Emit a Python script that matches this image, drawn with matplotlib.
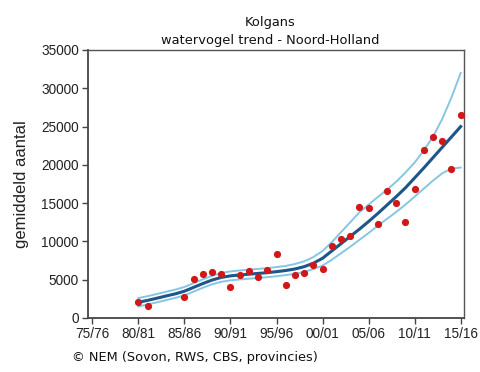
import matplotlib
matplotlib.use("Agg")
import matplotlib.pyplot as plt
import numpy as np

# Winter seasons (first year of season) and observed mean counts
count_years = [1980, 1981, 1985, 1986, 1987, 1988, 1989, 1990, 1991, 1992,
               1993, 1994, 1995, 1996, 1997, 1998, 1999, 2000, 2001, 2002,
               2003, 2004, 2005, 2006, 2007, 2008, 2009, 2010, 2011, 2012,
               2013, 2014, 2015]
counts = [2050, 1530, 2740, 5050, 5750, 6050, 5750, 4000, 5550, 6140,
          5400, 6270, 8400, 4310, 5570, 5920, 6960, 6440, 9400, 10320,
          10700, 14540, 14370, 12280, 16630, 15020, 12580, 16810, 21900, 23640,
          23120, 19460, 26470]

# Fitted trend with lower and upper confidence limits
trend_years = list(range(1980, 2016))
trend = [2050, 2300, 2580, 2870, 3150, 3500, 4000, 4500, 4950, 5300,
         5500, 5620, 5720, 5820, 5920, 6050, 6200, 6400, 6700, 7150,
         7800, 8750, 9700, 10650, 11600, 12600, 13650, 14750, 15850, 17000,
         18300, 19600, 20950, 22300, 23650, 25000]
lower = [1500, 1770, 2040, 2330, 2620, 2950, 3450, 3950, 4400, 4720,
         4920, 5030, 5130, 5230, 5330, 5450, 5600, 5760, 6020, 6380,
         6850, 7600, 8450, 9300, 10200, 11100, 12050, 12950, 13850, 14800,
         15850, 16900, 17950, 18900, 19500, 19650]
upper = [2600, 2850, 3130, 3420, 3700, 4050, 4550, 5050, 5500, 5880,
         6080, 6210, 6310, 6410, 6510, 6650, 6800, 7050, 7400, 7950,
         8750, 9900, 11200, 12500, 13800, 14800, 15800, 16750, 17800, 19000,
         20300, 21900, 23700, 26000, 28800, 32000]

tick_years = [1975, 1980, 1985, 1990, 1995, 2000, 2005, 2010, 2015]
tick_labels = ["75/76", "80/81", "85/86", "90/91", "95/96", "00/01",
               "05/06", "10/11", "15/16"]
y_ticks = [0, 5000, 10000, 15000, 20000, 25000, 30000, 35000]

fig = plt.figure(figsize=(4.8, 3.72), dpi=100)
ax = fig.add_axes([0.1833, 0.1452, 0.9667 - 0.1833, 0.8656 - 0.1452])

band_col = "#86c6e4"
ax.plot(trend_years, upper, color=band_col, lw=1.4, zorder=2)
ax.plot(trend_years, lower, color=band_col, lw=1.4, zorder=2)
ax.plot(trend_years, trend, color="#1d5688", lw=2.2, zorder=3)
ax.plot(count_years, counts, "o", color="#d01818", ms=5.2, mec="none", zorder=4)

ax.set_xlim(1974.53, 2015.36)
ax.set_ylim(0, 35000)
ax.set_xticks(tick_years)
ax.set_xticklabels(tick_labels)
ax.set_yticks(y_ticks)

for lab in ax.get_xticklabels() + ax.get_yticklabels():
    lab.set_fontfamily("Liberation Sans")
    lab.set_fontsize(9.8)
    lab.set_color("#222222")

ax.tick_params(axis="both", direction="out", length=4.5, width=1.0,
               color="#444444", pad=2)
ax.tick_params(top=False, right=False)
for side in ["left", "bottom"]:
    ax.spines[side].set_color("#444444")
    ax.spines[side].set_linewidth(1.3)
for side in ["top", "right"]:
    ax.spines[side].set_color("#555555")
    ax.spines[side].set_linewidth(1.0)

ax.set_ylabel("gemiddeld aantal", fontfamily="Liberation Sans", fontsize=12,
              color="#222222", labelpad=9)

fig.text(0.5625, 0.94, "Kolgans", ha="center", va="center",
         fontfamily="DejaVu Sans", fontsize=9.4, color="#111111")
fig.text(0.5625, 0.892, "watervogel trend - Noord-Holland", ha="center",
         va="center", fontfamily="DejaVu Sans", fontsize=9.4, color="#111111")
fig.text(0.15, 0.04, "\u00a9 NEM (Sovon, RWS, CBS, provincies)", ha="left",
         va="center", fontfamily="DejaVu Sans", fontsize=9.3, color="#111111")

fig.savefig("out.png", dpi=100, facecolor="white")
